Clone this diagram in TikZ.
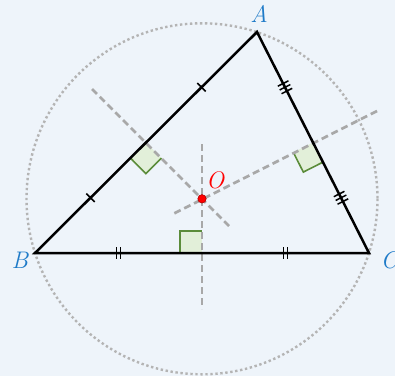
\documentclass[tikz,border=0pt]{standalone}
\usetikzlibrary{calc}
\definecolor{bgc}{HTML}{EEF4FA}
\definecolor{labblue}{HTML}{1F7BC8}
\definecolor{rafill}{HTML}{E2EFD9}
\definecolor{radraw}{HTML}{5B8C3A}
\definecolor{dgray}{HTML}{A8A8A8}
\definecolor{cgray}{HTML}{B4B4B4}
\tikzset{
  tri/.style={line width=2.5pt, line join=miter},
  bisec/.style={dgray, line width=2.7pt, dash pattern=on 7pt off 4pt},
  circ/.style={cgray, line width=2.4pt, dash pattern=on 2.4pt off 2.6pt},
  tickmark/.style={line width=1.5pt},
  rafillst/.style={fill=rafill},
  radrawst/.style={radraw, line width=1.6pt},
  lab/.style={inner sep=0pt, font=\fontsize{24}{28}\selectfont\itshape},
}
\newcommand\mytick[2]{\draw[tickmark] ($(#1)!6pt!90:(#2)$) -- ($(#1)!6pt!-90:(#2)$);}
\newcommand\myra[4]{% #1 corner, #2 side dir pt, #3 other dir pt, #4 name
  \coordinate (#4a) at ($(#1)!22pt!(#2)$);
  \coordinate (#4b) at ($(#1)!22pt!(#3)$);
  \coordinate (#4c) at ($(#4a)+(#4b)-(#1)$);
  \fill[rafillst] (#1) -- (#4a) -- (#4c) -- (#4b) -- cycle;
  \draw[radrawst] (#4a) -- (#4c) -- (#4b);
}
\begin{document}
\begin{tikzpicture}[x=1pt,y=-1pt]
\fill[bgc] (0,0) rectangle (395,376);
\useasboundingbox (0,0) rectangle (395,376);
\coordinate (A) at (257,32);
\coordinate (B) at (35,253);
\coordinate (C) at (369,253);
\coordinate (O) at (202,198.8);
\coordinate (Ma) at ($(B)!0.5!(C)$);
\coordinate (Mb) at ($(A)!0.5!(C)$);
\coordinate (Mc) at ($(A)!0.5!(B)$);
% circumcircle
\draw[circ] (O) circle (175.5);
% right angle marks
\myra{Ma}{B}{O}{ra}
\myra{Mc}{B}{O}{rc}
\myra{Mb}{C}{O}{rb}
% perpendicular bisectors
\coordinate (a1) at (202,144);
\coordinate (a2) at (202,309);
\coordinate (c1) at (92,89);
\coordinate (c2) at (229,226);
\coordinate (b1) at (377,111);
\coordinate (b2) at (171,215);
\draw[bisec] (a1) -- (a2);
\draw[bisec] (c1) -- (c2);
\draw[bisec] (b1) -- (b2);
% triangle
\draw[tri] (A) -- (B) -- (C) -- cycle;
% ticks on AB (single)
\coordinate (t1) at ($(A)!0.25!(B)$);
\coordinate (t2) at ($(A)!0.75!(B)$);
\mytick{t1}{B}
\mytick{t2}{B}
% ticks on BC (double)
\coordinate (u1) at ($(B)!0.25!(C)$);
\coordinate (u2) at ($(B)!0.75!(C)$);
\coordinate (u1a) at ($(u1)!2.2pt!(C)$);
\coordinate (u1b) at ($(u1)!-2.2pt!(C)$);
\coordinate (u2a) at ($(u2)!2.2pt!(C)$);
\coordinate (u2b) at ($(u2)!-2.2pt!(C)$);
\mytick{u1a}{C}\mytick{u1b}{C}
\mytick{u2a}{C}\mytick{u2b}{C}
% ticks on AC (triple)
\coordinate (v1) at ($(A)!0.25!(C)$);
\coordinate (v2) at ($(A)!0.75!(C)$);
\coordinate (v1a) at ($(v1)!4.2pt!(C)$);
\coordinate (v1b) at ($(v1)!-4.2pt!(C)$);
\coordinate (v2a) at ($(v2)!4.2pt!(C)$);
\coordinate (v2b) at ($(v2)!-4.2pt!(C)$);
\mytick{v1}{C}\mytick{v1a}{C}\mytick{v1b}{C}
\mytick{v2}{C}\mytick{v2a}{C}\mytick{v2b}{C}
% center point
\fill[red, draw=red!70!black, line width=0.6pt] (O) circle (4.2);
% labels
\node[lab, text=labblue] (lA) at (259,14) {A};
\node[lab, text=labblue] (lB) at (20,260) {B};
\node[lab, text=labblue] (lC) at (389,260) {C};
\node[lab, text=red] (lO) at (215,180) {O};
\end{tikzpicture}
\end{document}
